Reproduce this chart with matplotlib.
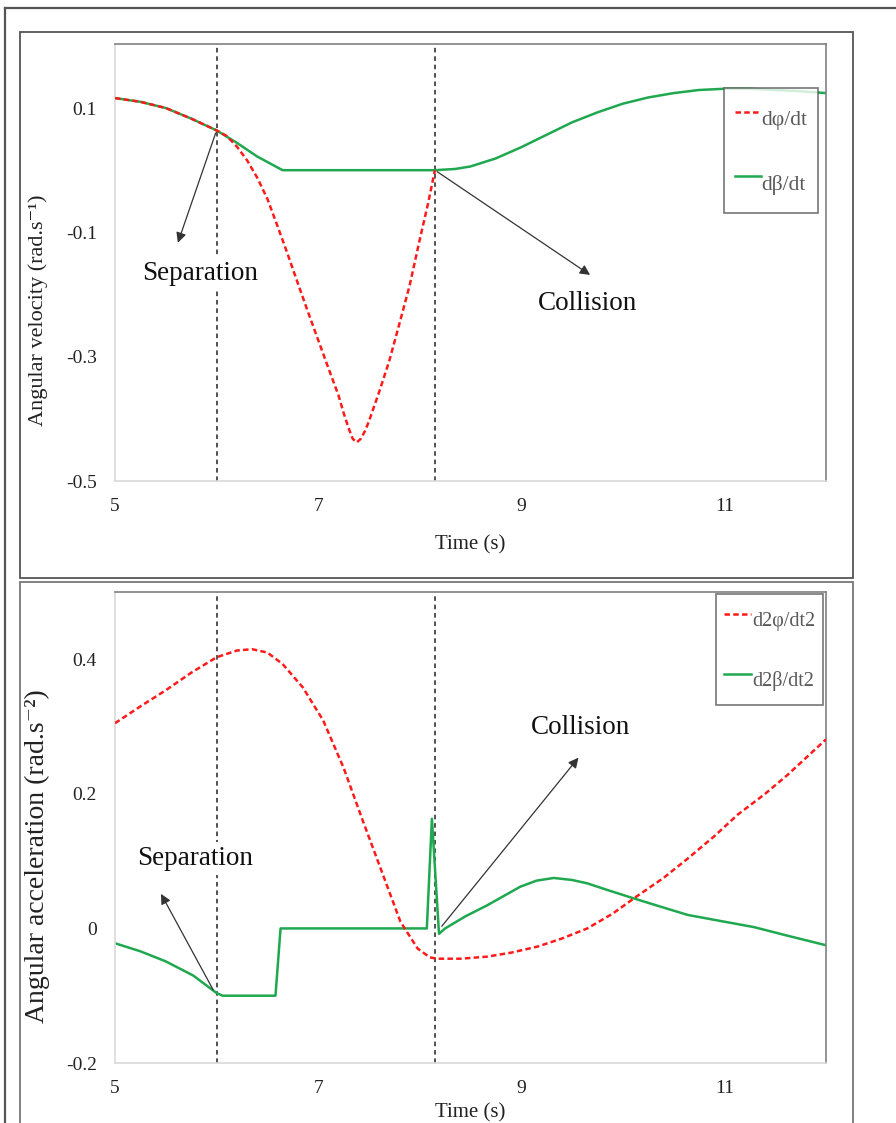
import matplotlib

matplotlib.use("Agg")
import matplotlib.pyplot as plt
from matplotlib.patches import Rectangle
from matplotlib.lines import Line2D

plt.rcParams["font.family"] = ["Liberation Serif", "DejaVu Serif"]
plt.rcParams["axes.unicode_minus"] = False

# angular velocity (top panel)
t_beta_vel = [5.0, 5.25, 5.5, 5.75, 6.0, 6.2, 6.4, 6.65, 8.15, 8.35, 8.5, 8.75,
              9.0, 9.25, 9.5, 9.75, 10.0, 10.25, 10.5, 10.75, 11.0, 11.25, 11.5,
              11.75, 12.0]
beta_vel = [0.116, 0.11, 0.1, 0.083, 0.064, 0.044, 0.022, 0.0, 0.0, 0.002, 0.006,
            0.019, 0.037, 0.057, 0.077, 0.093, 0.107, 0.117, 0.124, 0.129, 0.131,
            0.131, 0.129, 0.127, 0.124]

t_phi_vel = [5.0, 5.25, 5.5, 5.75, 6.0, 6.1, 6.2, 6.3, 6.4, 6.5, 6.6, 6.7, 6.8,
             6.9, 7.0, 7.1, 7.2, 7.25, 7.3, 7.34, 7.38, 7.42, 7.46, 7.5, 7.6, 7.7,
             7.8, 7.9, 8.0, 8.08, 8.15]
phi_vel = [0.116, 0.11, 0.1, 0.083, 0.064, 0.055, 0.038, 0.016, -0.012, -0.046,
           -0.09, -0.135, -0.182, -0.228, -0.273, -0.318, -0.362, -0.39, -0.415,
           -0.432, -0.438, -0.432, -0.42, -0.404, -0.357, -0.307, -0.247, -0.186,
           -0.112, -0.055, 0.0]

# angular acceleration (bottom panel)
t_phi_acc = [5.0, 5.25, 5.5, 5.75, 6.0, 6.2, 6.35, 6.5, 6.65, 6.85, 7.05, 7.25,
             7.44, 7.64, 7.81, 7.98, 8.1, 8.17, 8.4, 8.66, 8.9, 9.16, 9.4, 9.65,
             9.9, 10.14, 10.4, 10.64, 10.9, 11.13, 11.4, 11.62, 12.0]
phi_acc = [0.305, 0.33, 0.354, 0.38, 0.403, 0.413, 0.415, 0.41, 0.393, 0.358,
           0.309, 0.239, 0.16, 0.079, 0.01, -0.03, -0.043, -0.045, -0.045, -0.042,
           -0.036, -0.027, -0.015, 0.0, 0.022, 0.048, 0.075, 0.104, 0.137, 0.169,
           0.2, 0.228, 0.281]

t_beta_acc = [5.0, 5.25, 5.5, 5.77, 6.0, 6.06, 6.58, 6.63, 8.07, 8.12, 8.19, 8.25,
              8.45, 8.66, 8.99, 9.15, 9.32, 9.5, 9.65, 9.85, 10.1, 10.4, 10.64,
              11.0, 11.29, 11.6, 12.0]
beta_acc = [-0.022, -0.034, -0.049, -0.07, -0.096, -0.1, -0.1, 0.0, 0.0, 0.163,
            -0.008, 0.0, 0.018, 0.034, 0.062, 0.071, 0.075, 0.072, 0.067, 0.057,
            0.045, 0.031, 0.02, 0.01, 0.002, -0.01, -0.025]

t_separation = 6.0
t_collision = 8.15

RED = "#ff1a1a"
GREEN = "#1fa84f"
W, H = 896, 1123


def fx(px):
    return px / W


def fy(py):
    return 1 - py / H


fig = plt.figure(figsize=(W / 100, H / 100), dpi=100)

# outer frame and panel boxes
fig.add_artist(Line2D([fx(5), 1.0], [fy(8), fy(8)], color="#555555", lw=1.6))
fig.add_artist(Line2D([fx(5), fx(5)], [fy(8), 0.0], color="#555555", lw=1.6))
fig.add_artist(Rectangle((fx(20), fy(578)), fx(853) - fx(20), fy(32) - fy(578),
                         transform=fig.transFigure, fill=False,
                         edgecolor="#555555", lw=1.3))
fig.add_artist(Rectangle((fx(20), fy(1130)), fx(853) - fx(20), fy(582) - fy(1130),
                         transform=fig.transFigure, fill=False,
                         edgecolor="#777777", lw=1.3))

ax1 = fig.add_axes([fx(115), fy(481), fx(826) - fx(115), fy(44) - fy(481)])
ax2 = fig.add_axes([fx(115), fy(1063), fx(826) - fx(115), fy(592) - fy(1063)])


def style_axes(ax):
    ax.set_xlim(5, 12)
    ax.set_xticks([5, 7, 9, 11])
    for side in ["top", "right"]:
        ax.spines[side].set_color("#808080")
        ax.spines[side].set_linewidth(1.2)
    for side in ["left", "bottom"]:
        ax.spines[side].set_color("#d9d9d9")
        ax.spines[side].set_linewidth(1.2)
    ax.tick_params(length=0, labelsize=14, labelcolor="#222222")
    ax.tick_params(axis="y", pad=13)
    ax.tick_params(axis="x", pad=12)
    ax.set_xlabel("Time (s)", fontsize=15, color="#222222")
    for t in (t_separation, t_collision):
        ax.axvline(t, color="#222222", lw=1.1, ls=(0, (3, 2.5)), zorder=1)


def style_legend(leg):
    leg.get_frame().set_edgecolor("#555555")
    leg.get_frame().set_linewidth(1.2)
    for txt in leg.get_texts():
        txt.set_color("#595959")


arrow_kw = dict(arrowstyle="-|>", color="#333333", lw=0.9, mutation_scale=15)
text_kw = dict(fontsize=19.5, ha="center", va="center", color="#111111",
               bbox=dict(facecolor="white", edgecolor="none", pad=3), zorder=4)

# top panel: angular velocity
style_axes(ax1)
ax1.set_ylim(-0.5, 0.203)
ax1.set_yticks([0.1, -0.1, -0.3, -0.5])
ax1.plot(t_phi_vel, phi_vel, color=RED, lw=1.8, ls=(0, (2.2, 1.3)),
         label="dφ/dt", zorder=3)
ax1.plot(t_beta_vel, beta_vel, color=GREEN, lw=1.8, label="dβ/dt", zorder=2)
ax1.set_ylabel("Angular velocity (rad.s⁻¹)", fontsize=16, color="#222222")
ax1.yaxis.set_label_coords(-0.094, 0.39)
ax1.xaxis.set_label_coords(0.5, -0.125)
ax1.annotate("", xy=(5.61, -0.121), xytext=(6.0, 0.064), arrowprops=arrow_kw,
             zorder=5)
ax1.text(5.84, -0.166, "Separation", **text_kw)
ax1.annotate("", xy=(9.7, -0.171), xytext=(8.15, 0.0), arrowprops=arrow_kw,
             zorder=5)
ax1.text(9.65, -0.215, "Collision", **text_kw)
leg1 = ax1.legend(loc="upper left", bbox_to_anchor=(fx(724), fy(88)),
                  bbox_transform=fig.transFigure, fontsize=15.5, frameon=True,
                  fancybox=False, handlelength=1.2, handletextpad=0.05,
                  handleheight=2.4, labelspacing=1.2, borderpad=0.5,
                  borderaxespad=0)
style_legend(leg1)

# bottom panel: angular acceleration
style_axes(ax2)
ax2.set_ylim(-0.2, 0.5)
ax2.set_yticks([0.4, 0.2, 0, -0.2])
ax2.set_yticklabels(["0.4", "0.2", "0", "-0.2"])
ax2.plot(t_phi_acc, phi_acc, color=RED, lw=1.8, ls=(0, (2.2, 1.3)),
         label="d2φ/dt2", zorder=3)
ax2.plot(t_beta_acc, beta_acc, color=GREEN, lw=1.8, label="d2β/dt2", zorder=2)
ax2.set_ylabel("Angular acceleration (rad.s⁻²)", fontsize=20, color="#222222")
ax2.yaxis.set_label_coords(-0.092, 0.44)
ax2.xaxis.set_label_coords(0.5, -0.085)
ax2.annotate("", xy=(5.44, 0.055), xytext=(5.98, -0.095), arrowprops=arrow_kw,
             zorder=5)
ax2.text(5.79, 0.104, "Separation", **text_kw)
ax2.annotate("", xy=(9.58, 0.257), xytext=(8.2, 0.0), arrowprops=arrow_kw,
             zorder=5)
ax2.text(9.58, 0.298, "Collision", **text_kw)
leg2 = ax2.legend(loc="upper left", bbox_to_anchor=(fx(716), fy(594)),
                  bbox_transform=fig.transFigure, fontsize=14.5, frameon=True,
                  fancybox=False, handlelength=1.35, handletextpad=0.05,
                  handleheight=2.3, labelspacing=1.25, borderpad=0.4,
                  borderaxespad=0)
style_legend(leg2)

fig.savefig("out.png", dpi=100, facecolor="white")
